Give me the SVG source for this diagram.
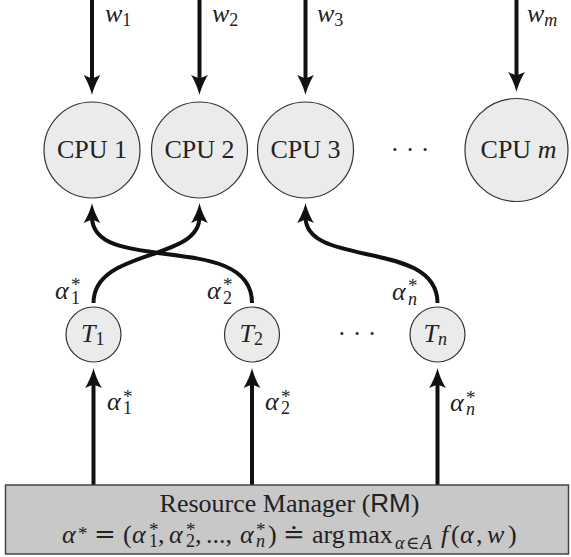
<svg xmlns="http://www.w3.org/2000/svg" width="571" height="557" viewBox="0 0 571 557">
  <style>
    .node { fill: #ebebeb; stroke: #333; stroke-width: 1.2; }
    .rm { fill: #c8c8c8; stroke: #444; stroke-width: 1.5; }
    .edge { fill: none; stroke: #111; stroke-width: 4; marker-end: url(#head); }
    text { font-family: "Liberation Serif", "DejaVu Serif", serif; fill: #222; }
    .lbl { font-size: 26px; }
    .it { font-style: italic; }
    .sub { font-size: 18px; }
    .star { font-size: 19px; }
    .sans { font-family: "Liberation Sans", "DejaVu Sans", sans-serif; }
    .sym { font-family: "DejaVu Serif", serif; }
  </style>
  <defs>
    <marker id="head" viewBox="0 -10 22 20" markerWidth="22" markerHeight="20" refX="6" refY="0" orient="auto" markerUnits="userSpaceOnUse">
      <path d="M20,0 C14,1.5 5,5 0,8.5 L3.5,0 L0,-8.5 C5,-5 14,-1.5 20,0 Z" fill="#111"/>
    </marker>
  </defs>

  <!-- connectors -->
  <g id="edges">
    <path class="edge" d="M92,0 V81"/>
    <path class="edge" d="M199.5,0 V81"/>
    <path class="edge" d="M305.5,0 V81"/>
    <path class="edge" d="M516.5,0 V78"/>
    <path class="edge" d="M93.5,303 C93.5,248 199.5,262 199.5,217"/>
    <path class="edge" d="M252,303 C252,230 92,276 92,217"/>
    <path class="edge" d="M437.5,303 C437.5,239 305.5,268 305.5,217"/>
    <path class="edge" d="M93.5,485 V382"/>
    <path class="edge" d="M252,485 V382"/>
    <path class="edge" d="M437.5,485 V382"/>
  </g>

  <!-- workload labels -->
  <g id="workloads" class="lbl">
    <text x="105" y="22"><tspan class="it">w</tspan><tspan class="sub" dy="4">1</tspan></text>
    <text x="212" y="22"><tspan class="it">w</tspan><tspan class="sub" dy="4">2</tspan></text>
    <text x="317" y="22"><tspan class="it">w</tspan><tspan class="sub" dy="4">3</tspan></text>
    <text x="527" y="22"><tspan class="it">w</tspan><tspan class="sub it" dy="4">m</tspan></text>
  </g>

  <!-- CPUs -->
  <g id="cpu1">
    <circle class="node" cx="92" cy="150" r="48"/>
    <text class="lbl" x="92" y="158" text-anchor="middle">CPU 1</text>
  </g>
  <g id="cpu2">
    <circle class="node" cx="199.5" cy="150" r="48"/>
    <text class="lbl" x="199.5" y="158" text-anchor="middle">CPU 2</text>
  </g>
  <g id="cpu3">
    <circle class="node" cx="305.5" cy="150" r="48"/>
    <text class="lbl" x="305.5" y="158" text-anchor="middle">CPU 3</text>
  </g>
  <g id="cpu-dots">
    <text class="lbl" x="410" y="158" text-anchor="middle">· · ·</text>
  </g>
  <g id="cpum">
    <circle class="node" cx="516.5" cy="150" r="51.5"/>
    <text class="lbl" x="518.5" y="158" text-anchor="middle">CPU <tspan class="it">m</tspan></text>
  </g>

  <!-- tasks -->
  <g id="t1">
    <circle class="node" cx="93.5" cy="334.5" r="27.5"/>
    <text class="lbl" x="81" y="342"><tspan class="it">T</tspan><tspan class="sub" dy="3">1</tspan></text>
  </g>
  <g id="t2">
    <circle class="node" cx="252" cy="334.5" r="27.5"/>
    <text class="lbl" x="239.5" y="342"><tspan class="it">T</tspan><tspan class="sub" dy="3">2</tspan></text>
  </g>
  <g id="task-dots">
    <text class="lbl" x="357" y="342" text-anchor="middle">· · ·</text>
  </g>
  <g id="tn">
    <circle class="node" cx="437.5" cy="334.5" r="27.5"/>
    <text class="lbl" x="423.5" y="342"><tspan class="it">T</tspan><tspan class="sub it" dy="3">n</tspan></text>
  </g>

  <!-- allocation labels -->
  <g id="alloc-labels" class="lbl">
    <text x="55" y="299"><tspan class="it">α</tspan><tspan class="star" x="71" y="291">*</tspan><tspan class="sub" x="71" y="304">1</tspan></text>
    <text x="207" y="299"><tspan class="it">α</tspan><tspan class="star" x="223" y="291">*</tspan><tspan class="sub" x="223" y="304">2</tspan></text>
    <text x="392" y="300"><tspan class="it">α</tspan><tspan class="star" x="408" y="292">*</tspan><tspan class="sub it" x="408" y="305">n</tspan></text>
    <text x="107" y="410"><tspan class="it">α</tspan><tspan class="star" x="123" y="403">*</tspan><tspan class="sub" x="123" y="414">1</tspan></text>
    <text x="265" y="410"><tspan class="it">α</tspan><tspan class="star" x="281" y="403">*</tspan><tspan class="sub" x="281" y="414">2</tspan></text>
    <text x="450" y="411"><tspan class="it">α</tspan><tspan class="star" x="466" y="404">*</tspan><tspan class="sub it" x="466" y="415">n</tspan></text>
  </g>

  <!-- resource manager -->
  <g id="rm">
    <rect class="rm" x="5.5" y="485" width="563" height="69"/>
    <text class="lbl" x="289.5" y="512" text-anchor="middle">Resource Manager (<tspan class="sans">RM</tspan>)</text>
    <text class="lbl" y="543"><tspan class="it" x="62">α</tspan><tspan class="star" x="78" y="540">*</tspan><tspan class="sym" x="94" y="543">=</tspan><tspan x="123">(</tspan><tspan class="it" x="132">α</tspan><tspan class="star" x="149" y="536">*</tspan><tspan class="sub" x="149" y="547">1</tspan><tspan x="158" y="543">,</tspan><tspan class="it" x="169">α</tspan><tspan class="star" x="186" y="536">*</tspan><tspan class="sub" x="186" y="547">2</tspan><tspan x="195" y="543">,</tspan><tspan x="206">...,</tspan><tspan class="it" x="240">α</tspan><tspan class="star" x="256" y="536">*</tspan><tspan class="sub it" x="256" y="547">n</tspan><tspan x="268" y="543">)</tspan><tspan class="sym" x="283">≐</tspan><tspan x="312">arg</tspan><tspan x="348">max</tspan><tspan class="sub it" x="395" y="549">α</tspan><tspan class="sub sym" x="406">∈</tspan><tspan class="sub it" x="420" style="font-size:20px">A</tspan><tspan class="it" x="441" y="543">f</tspan><tspan x="451">(</tspan><tspan class="it" x="460">α</tspan><tspan x="476">,</tspan><tspan class="it" x="487">w</tspan><tspan x="508">)</tspan></text>
  </g>
</svg>
